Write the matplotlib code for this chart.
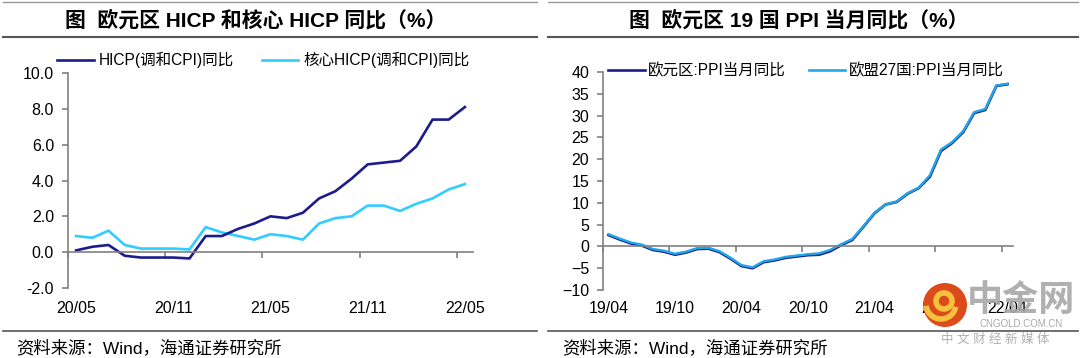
import numpy as np
import matplotlib
matplotlib.use("Agg")
import matplotlib.pyplot as plt
from matplotlib.lines import Line2D
from matplotlib.patches import Ellipse, Arc

plt.rcParams['font.family'] = ['Liberation Sans', 'Noto Sans CJK SC', 'DejaVu Sans']

# ---- left chart: HICP, 2020/05 - 2022/05
hicp_months = ["20/05", "20/06", "20/07", "20/08", "20/09", "20/10", "20/11", "20/12",
               "21/01", "21/02", "21/03", "21/04", "21/05", "21/06", "21/07", "21/08",
               "21/09", "21/10", "21/11", "21/12", "22/01", "22/02", "22/03", "22/04", "22/05"]
hicp = [0.1, 0.3, 0.4, -0.2, -0.3, -0.3, -0.3, -0.35, 0.9, 0.9, 1.3, 1.6, 2.0,
        1.9, 2.2, 3.0, 3.4, 4.1, 4.9, 5.0, 5.1, 5.9, 7.4, 7.4, 8.1]
core_hicp = [0.9, 0.8, 1.2, 0.4, 0.2, 0.2, 0.2, 0.15, 1.4, 1.1, 0.9, 0.7, 1.0,
             0.9, 0.7, 1.6, 1.9, 2.0, 2.6, 2.6, 2.3, 2.7, 3.0, 3.5, 3.8]
hicp_labels = ["HICP(调和CPI)同比", "核心HICP(调和CPI)同比"]

# ---- right chart: PPI, 2019/04 - 2022/04
ppi_months = ["19/04", "19/05", "19/06", "19/07", "19/08", "19/09", "19/10", "19/11", "19/12",
              "20/01", "20/02", "20/03", "20/04", "20/05", "20/06", "20/07", "20/08", "20/09",
              "20/10", "20/11", "20/12", "21/01", "21/02", "21/03", "21/04", "21/05", "21/06",
              "21/07", "21/08", "21/09", "21/10", "21/11", "21/12", "22/01", "22/02", "22/03",
              "22/04"]
ppi_ea = [2.6, 1.6, 0.7, 0.2, -0.8, -1.2, -1.9, -1.4, -0.6, -0.5, -1.3, -2.8, -4.5,
          -5.0, -3.6, -3.2, -2.6, -2.3, -2.0, -1.9, -1.1, 0.3, 1.5, 4.5, 7.6, 9.6,
          10.2, 12.1, 13.4, 16.0, 21.9, 23.7, 26.2, 30.6, 31.3, 36.8, 37.2]
ppi_eu27 = [2.8, 1.8, 0.9, 0.4, -0.6, -1.0, -1.7, -1.2, -0.4, -0.3, -1.1, -2.6, -4.3,
            -4.8, -3.4, -3.0, -2.4, -2.1, -1.8, -1.6, -0.8, 0.5, 1.7, 4.6, 7.7, 9.6,
            10.3, 12.2, 13.5, 16.3, 22.2, 23.9, 26.4, 30.8, 31.5, 36.9, 37.3]
ppi_labels = ["欧元区:PPI当月同比", "欧盟27国:PPI当月同比"]

navy = "#1c1c8c"
cyan = "#33ccff"
sky = "#1fa8e8"
axis_gray = "#808080"

W, H = 1080, 358
fig = plt.figure(figsize=(W / 100, H / 100), dpi=100)


def fx(px):
    return px / W


def fy(py):
    return 1 - py / H


def hline(x0, x1, y, color="#666666", lw=1.2):
    fig.add_artist(Line2D([fx(x0), fx(x1)], [fy(y), fy(y)], color=color, lw=lw,
                          transform=fig.transFigure))


def style_axes(ax, n, step):
    for s in ["top", "right"]:
        ax.spines[s].set_visible(False)
    ax.spines["left"].set_color(axis_gray)
    ax.spines["bottom"].set_color(axis_gray)
    ax.spines["bottom"].set_position(("data", 0))
    ax.spines["left"].set_linewidth(1.2)
    ax.spines["bottom"].set_linewidth(1.2)
    ax.set_xlim(-0.5, n - 0.5)
    ax.set_xticks(np.arange(-0.5, n - 0.5, step))
    ax.set_xticklabels([])
    ax.tick_params(axis="x", direction="out", length=4, color=axis_gray, width=1.2)
    ax.tick_params(axis="y", direction="out", length=4, color=axis_gray, width=1.2,
                   labelsize=11.5, pad=6)


# ---- left
axl = fig.add_axes([fx(68), fy(288), fx(473 - 68), (288 - 73) / H])
xl = np.arange(len(hicp))
axl.plot(xl, core_hicp, color=cyan, lw=1.9, solid_joinstyle="round")
axl.plot(xl, hicp, color=navy, lw=1.9, solid_joinstyle="round")
style_axes(axl, len(hicp), 6)
axl.set_ylim(-2, 10)
axl.set_yticks(np.arange(-2, 10.1, 2))
axl.set_yticklabels(["%.1f" % v for v in np.arange(-2, 10.1, 2)])
for i in range(0, len(hicp_months), 6):
    axl.text(i, -0.095, hicp_months[i], transform=axl.get_xaxis_transform(),
             ha="center", va="center", fontsize=11.5)

# ---- right
axr = fig.add_axes([fx(603), fy(290), fx(1013 - 603), (290 - 72) / H])
xr = np.arange(len(ppi_ea))
axr.plot(xr, ppi_ea, color=navy, lw=2.0, solid_joinstyle="round")
axr.plot(xr, ppi_eu27, color=sky, lw=1.7, solid_joinstyle="round")
style_axes(axr, len(ppi_ea), 6)
axr.set_ylim(-10, 40)
axr.set_yticks(np.arange(-10, 41, 5))
for i in range(0, len(ppi_months), 6):
    axr.text(i, -0.087, ppi_months[i], transform=axr.get_xaxis_transform(),
             ha="center", va="center", fontsize=11.5)

# legends
fig.legend([Line2D([], [], color=navy, lw=1.9), Line2D([], [], color=cyan, lw=1.9)],
           hicp_labels, loc="center left", bbox_to_anchor=(fx(57), fy(60)), ncol=2,
           frameon=False, fontsize=11.2, handlelength=2.35, handletextpad=0.33,
           columnspacing=1.8, borderaxespad=0, borderpad=0)
fig.legend([Line2D([], [], color=navy, lw=1.9), Line2D([], [], color=sky, lw=1.9)],
           ppi_labels, loc="center left", bbox_to_anchor=(fx(608), fy(71)), ncol=2,
           frameon=False, fontsize=11.2, handlelength=2.35, handletextpad=0.2,
           columnspacing=1.5, borderaxespad=0, borderpad=0)

# titles and rules
fig.text(fx(256), fy(20), "图  欧元区 HICP 和核心 HICP 同比（%）", ha="center", va="center",
         fontsize=15, fontweight="bold")
fig.text(fx(799), fy(20), "图  欧元区 19 国 PPI 当月同比（%）", ha="center", va="center",
         fontsize=15, fontweight="bold")
hline(3, 537, 2, color="#999999", lw=1.0)
hline(3, 537, 37, color="#555555", lw=1.5)
hline(548, 1078, 2, color="#999999", lw=1.0)
hline(548, 1078, 37, color="#555555", lw=1.5)
hline(3, 537, 331, color="#555555", lw=1.2)
hline(548, 1078, 331, color="#555555", lw=1.2)
fig.text(fx(16), fy(348), "资料来源：Wind，海通证券研究所", ha="left", va="center", fontsize=12.5)
fig.text(fx(562), fy(348), "资料来源：Wind，海通证券研究所", ha="left", va="center", fontsize=12.5)

# watermark (logo drawn as shapes, text in grey)
fig.add_artist(Ellipse((fx(945), fy(305)), fx(44), 44 / H, transform=fig.transFigure,
                       facecolor="#dd4a1c", edgecolor="none", zorder=10))
fig.add_artist(Arc((fx(944), fy(301)), fx(16), 16 / H, theta1=-60, theta2=300,
                   transform=fig.transFigure, color="#f6c23e", lw=4, zorder=11))
fig.add_artist(Arc((fx(941), fy(304)), fx(30), 30 / H, theta1=200, theta2=330,
                   transform=fig.transFigure, color="#f6c23e", lw=4, zorder=11))
fig.text(fx(1021), fy(301), "中金网", ha="center", va="center", fontsize=26,
         fontweight="bold", color="#a8a8a8", alpha=0.9, zorder=11)
fig.text(fx(1021), fy(324), "CNGOLD.COM.CN", ha="center", va="center", fontsize=7,
         color="#a8a8a8", zorder=11)
fig.text(fx(995), fy(340), "中 文 财 经 新 媒 体", ha="center", va="center", fontsize=9,
         color="#b0b0b0", zorder=11)

fig.savefig("out.png", dpi=100)
